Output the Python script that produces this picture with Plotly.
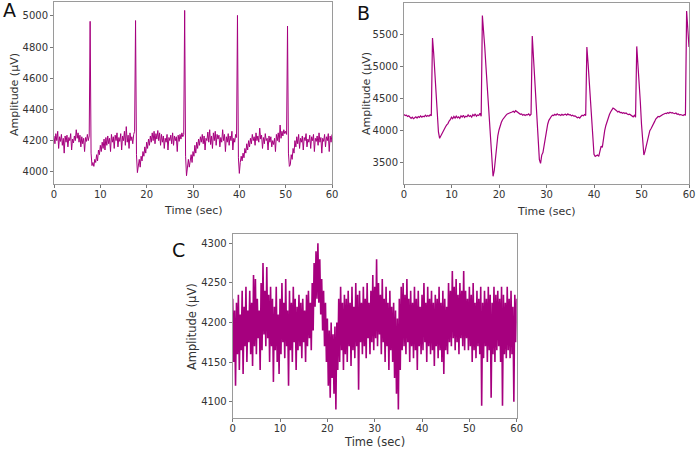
import plotly.graph_objects as go

# ---------------- data ----------------
dt_A = 0.2
amp_A = [
    4230, 4180, 4245, 4200, 4260, 4150, 4225, 4195, 4240, 4170,
    4215, 4120, 4230, 4190, 4235, 4160, 4220, 4200, 4245, 4140,
    4210, 4185, 4230, 4200, 4270, 4215, 4250, 4190, 4235, 4160,
    4225, 4180, 4215, 4130, 4220, 4195, 4240, 4200, 4230, 4965,
    4120, 4040, 4060, 4035, 4080, 4060, 4110, 4070, 4140, 4110,
    4170, 4130, 4190, 4150, 4210, 4140, 4220, 4170, 4230, 4180,
    4215, 4130, 4240, 4190, 4225, 4150, 4235, 4200, 4250, 4160,
    4220, 4195, 4245, 4140, 4230, 4200, 4260, 4170, 4290, 4190,
    4235, 4150, 4250, 4200, 4225, 4180, 4240, 4260, 4970, 4110,
    3995, 4040, 4080, 4030, 4100, 4070, 4130, 4100, 4160, 4120,
    4190, 4150, 4210, 4170, 4230, 4190, 4250, 4200, 4260, 4180,
    4245, 4210, 4265, 4200, 4250, 4170, 4240, 4190, 4230, 4150,
    4215, 4190, 4240, 4140, 4220, 4200, 4235, 4180, 4250, 4170,
    4230, 4200, 4225, 4130, 4235, 4195, 4240, 4210, 4250, 4225,
    4240, 5035, 4100, 3975, 4040, 4080, 4030, 4070, 4110, 4060,
    4130, 4100, 4170, 4120, 4190, 4150, 4210, 4170, 4225, 4190,
    4240, 4180, 4230, 4140, 4215, 4200, 4255, 4190, 4270, 4175,
    4230, 4150, 4250, 4200, 4260, 4170, 4240, 4210, 4235, 4160,
    4220, 4190, 4270, 4200, 4240, 4130, 4225, 4190, 4245, 4170,
    4230, 4200, 4260, 4140, 4215, 4190, 4240, 4220, 5003, 4090,
    3990, 4060, 4100, 4070, 4120, 4090, 4150, 4120, 4180, 4140,
    4200, 4160, 4215, 4180, 4240, 4200, 4225, 4170, 4250, 4200,
    4230, 4190, 4280, 4210, 4235, 4150, 4220, 4180, 4245, 4200,
    4215, 4140, 4230, 4190, 4225, 4160, 4200, 4175, 4215, 4130,
    4240, 4200, 4250, 4190, 4300, 4215, 4260, 4230, 4270, 4245,
    4260, 4240, 4935, 4120, 4035, 4045, 4110, 4080, 4150, 4120,
    4200, 4160, 4225, 4180, 4240, 4150, 4215, 4190, 4230, 4140,
    4220, 4200, 4245, 4160, 4210, 4190, 4235, 4150, 4225, 4200,
    4240, 4130, 4215, 4195, 4230, 4170, 4250, 4190, 4220, 4120,
    4215, 4195, 4240, 4160, 4225, 4200, 4245, 4130, 4230, 4190,
    4240,
]

dt_B = 0.25
amp_B = [
    4250, 4235, 4240, 4220, 4230, 4205, 4190, 4210,
    4185, 4200, 4215, 4195, 4220, 4205, 4230, 4210,
    4225, 4215, 4240, 4220, 4235, 4225, 4245, 4230,
    5440, 5200, 4900, 4600, 4300, 3980, 3880, 3920,
    3960, 4000, 4030, 4060, 4090, 4110, 4150, 4170,
    4210, 4185, 4220, 4195, 4225, 4200, 4215, 4190,
    4230, 4210, 4240, 4205, 4225, 4215, 4245, 4220,
    4235, 4210, 4250, 4230, 4260, 4225, 4245, 4235,
    4270, 4225, 5790, 5600, 5300, 5000, 4700, 4400,
    4100, 3800, 3500, 3290, 3380, 3580, 3770, 3920,
    4010, 4080, 4130, 4170, 4200, 4230, 4240, 4260,
    4265, 4280, 4275, 4290, 4300, 4285, 4310, 4295,
    4280, 4270, 4255, 4260, 4240, 4250, 4235, 4250,
    4245, 4260, 4235, 4255, 5470, 5150, 4850, 4550,
    4200, 3850, 3550, 3490, 3620, 3660, 3780, 3900,
    4010, 4100, 4160, 4200, 4220, 4240, 4235, 4255,
    4240, 4260, 4245, 4250, 4235, 4255, 4240, 4250,
    4255, 4240, 4260, 4245, 4250, 4230, 4240, 4225,
    4230, 4215, 4200, 4210, 4195, 4220, 4240, 4230,
    4250, 4235, 5300, 5050, 4750, 4450, 4150, 3850,
    3630, 3600, 3610, 3620, 3600, 3700, 3760, 3740,
    3900, 4000, 4080, 4150, 4200, 4250, 4290, 4320,
    4350, 4340, 4330, 4310, 4290, 4300, 4280, 4285,
    4270, 4280, 4265, 4275, 4260, 4250, 4255, 4240,
    4235, 4215, 4240, 4210, 5310, 5050, 4750, 4450,
    4100, 3750, 3620, 3680, 3760, 3850, 3920, 4000,
    4030, 4060, 4090, 4140, 4180, 4200, 4220, 4215,
    4230, 4245, 4250, 4260, 4270, 4265, 4280, 4270,
    4285, 4275, 4280, 4270, 4265, 4275, 4255, 4260,
    4245, 4250, 4240, 4235, 4250, 4245, 5860, 5600,
    5300,
]

dt_C = 0.2
amp_C = [
    4230, 4150, 4215, 4120, 4225, 4160, 4235, 4140, 4210, 4165,
    4240, 4135, 4220, 4170, 4245, 4150, 4215, 4175, 4240, 4160,
    4225, 4145, 4260, 4170, 4255, 4160, 4230, 4180, 4215, 4140,
    4250, 4165, 4275, 4185, 4240, 4170, 4270, 4180, 4235, 4150,
    4245, 4170, 4230, 4125, 4220, 4165, 4245, 4150, 4210, 4135,
    4230, 4160, 4250, 4175, 4225, 4155, 4255, 4170, 4215, 4120,
    4240, 4165, 4225, 4150, 4245, 4175, 4230, 4140, 4220, 4165,
    4235, 4170, 4225, 4155, 4230, 4175, 4215, 4150, 4235, 4170,
    4240, 4180, 4225, 4165, 4250, 4190, 4275, 4220, 4290, 4230,
    4300, 4225, 4280, 4210, 4255, 4190, 4240, 4170, 4225, 4150,
    4205, 4120, 4190, 4105, 4200, 4130, 4185, 4110, 4195, 4090,
    4200, 4140, 4230, 4150, 4245, 4165, 4225, 4140, 4235, 4160,
    4230, 4150, 4240, 4170, 4225, 4145, 4245, 4165, 4220, 4155,
    4250, 4170, 4235, 4115, 4240, 4175, 4225, 4160, 4245, 4170,
    4230, 4155, 4250, 4180, 4225, 4160, 4240, 4175, 4260, 4165,
    4245, 4180, 4280, 4170, 4250, 4185, 4235, 4160, 4255, 4175,
    4230, 4150, 4245, 4170, 4225, 4140, 4240, 4165, 4220, 4150,
    4225, 4130, 4215, 4110, 4205, 4090, 4230, 4140, 4245, 4165,
    4250, 4170, 4235, 4160, 4255, 4175, 4230, 4150, 4240, 4170,
    4225, 4155, 4245, 4165, 4230, 4140, 4240, 4170, 4220, 4160,
    4235, 4165, 4250, 4175, 4225, 4150, 4245, 4170, 4230, 4160,
    4240, 4165, 4225, 4145, 4235, 4170, 4230, 4155, 4245, 4165,
    4225, 4150, 4240, 4135, 4230, 4165, 4220, 4160, 4250, 4175,
    4240, 4170, 4265, 4180, 4245, 4165, 4255, 4175, 4235, 4160,
    4250, 4180, 4240, 4170, 4265, 4165, 4240, 4180, 4230, 4165,
    4245, 4170, 4235, 4150, 4250, 4165, 4225, 4155, 4240, 4170,
    4230, 4160, 4245, 4095, 4225, 4155, 4240, 4170, 4230, 4150,
    4245, 4165, 4235, 4105, 4225, 4160, 4245, 4150, 4235, 4165,
    4240, 4170, 4230, 4150, 4245, 4095, 4235, 4160, 4225, 4155,
    4245, 4165, 4230, 4155, 4240, 4160, 4220, 4100, 4235, 4175,
    4230,
]

panel_labels = ["A", "B", "C"]
x_title = "Time (sec)"
y_title = "Amplitude (μV)"
x_ticks = [0, 10, 20, 30, 40, 50, 60]
y_ticks_A = [4000, 4200, 4400, 4600, 4800, 5000]
y_ticks_B = [3500, 4000, 4500, 5000, 5500]
y_ticks_C = [4100, 4150, 4200, 4250, 4300]

# ---------------- figure ----------------
W, H = 696, 450
LINE = "#A6007E"
FONT = "DejaVu Sans"

def times(vals, dt):
    return [i * dt for i in range(len(vals))]

fig = go.Figure()
fig.add_trace(go.Scatter(x=times(amp_A, dt_A), y=amp_A, mode="lines",
                         line=dict(color=LINE, width=1), xaxis="x", yaxis="y"))
fig.add_trace(go.Scatter(x=times(amp_B, dt_B), y=amp_B, mode="lines",
                         line=dict(color=LINE, width=1.2), xaxis="x2", yaxis="y2"))
fig.add_trace(go.Scatter(x=times(amp_C, dt_C), y=amp_C, mode="lines",
                         line=dict(color=LINE, width=1.6), xaxis="x3", yaxis="y3"))

def px_x(p):
    return p / W

def px_y(p):
    return 1 - p / H

axis_common = dict(showline=True, mirror=True, linecolor="#9a9a9a", linewidth=1,
                   ticks="outside", ticklen=3, tickcolor="#777", tickwidth=1,
                   showgrid=False, zeroline=False, automargin=False,
                   tickfont=dict(family=FONT, size=10, color="#333"))

panels = [
    # (x0, x1, ytop, ybottom, yrange, yticks)
    (54, 332, 2, 184, [3922, 5089], y_ticks_A),
    (404, 689, 3, 184, [3170, 5985], y_ticks_B),
    (232.7, 516.7, 234.3, 418.3, [4079, 4311.4], y_ticks_C),
]

layout = dict(width=W, height=H, margin=dict(l=0, r=0, t=0, b=0),
              paper_bgcolor="white", plot_bgcolor="white", showlegend=False,
              font=dict(family=FONT, color="#333"))
for i, (x0, x1, yt, yb, yr, yt_vals) in enumerate(panels):
    sfx = "" if i == 0 else str(i + 1)
    layout["xaxis" + sfx] = dict(domain=[px_x(x0), px_x(x1)], range=[0, 60],
                                 tickvals=x_ticks, anchor="y" + sfx,
                                 ticklabelstandoff=-2, **axis_common)
    layout["yaxis" + sfx] = dict(domain=[px_y(yb), px_y(yt)], range=yr,
                                 tickvals=yt_vals, anchor="x" + sfx, **axis_common)
fig.update_layout(**layout)

# panel letters and axis titles as text
letter_pos = [(9, 10), (363, 13), (178.5, 250)]
for lab, (lx, ly) in zip(panel_labels, letter_pos):
    fig.add_annotation(text=lab, x=px_x(lx), y=px_y(ly), xref="paper", yref="paper",
                       showarrow=False, font=dict(family=FONT, size=19, color="#111"),
                       xanchor="center", yanchor="middle")

xtitle_pos = [(193, 210), (546, 211), (374.7, 442)]
ytitle_pos = [(14, 95), (366, 94), (192, 327)]
title_sizes = [11, 11, 11.5]
for (tx, ty), (ux, uy), fs in zip(xtitle_pos, ytitle_pos, title_sizes):
    fig.add_annotation(text=x_title, x=px_x(tx), y=px_y(ty), xref="paper", yref="paper",
                       showarrow=False, font=dict(family=FONT, size=fs, color="#333"),
                       xanchor="center", yanchor="middle")
    fig.add_annotation(text=y_title, x=px_x(ux), y=px_y(uy), xref="paper", yref="paper",
                       showarrow=False, textangle=-90,
                       font=dict(family=FONT, size=fs, color="#333"),
                       xanchor="center", yanchor="middle")

fig.write_html("out.html", config={"displayModeBar": False},
               post_script="document.body.style.margin='0px';document.body.style.overflow='hidden';")
